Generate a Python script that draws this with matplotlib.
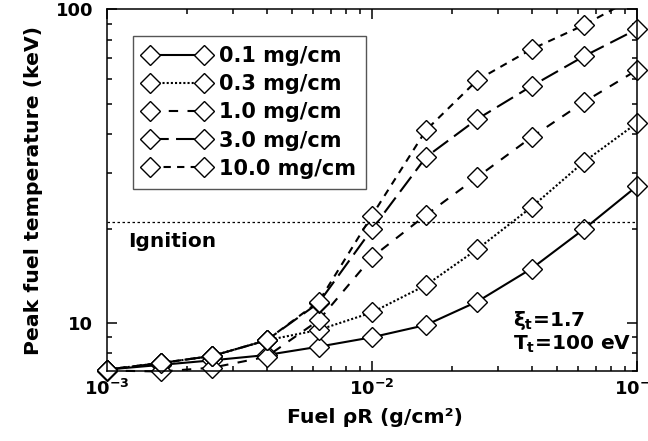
import matplotlib
matplotlib.use('Agg')
import matplotlib.pyplot as plt
from matplotlib.ticker import NullFormatter, LogLocator

plt.rcParams['font.family'] = 'DejaVu Sans'
plt.rcParams['font.weight'] = 'bold'
plt.rcParams['mathtext.fontset'] = 'custom'
plt.rcParams['mathtext.rm'] = 'DejaVu Sans:bold'
plt.rcParams['mathtext.it'] = 'DejaVu Sans:bold'
plt.rcParams['mathtext.bf'] = 'DejaVu Sans:bold'

# fuel areal density (g/cm^2) and peak fuel temperature (keV) for each liner mass
rho_r = [1.0e-3, 1.6e-3, 2.5e-3, 4.0e-3, 6.3e-3, 1.0e-2, 1.6e-2, 2.5e-2, 4.0e-2, 6.3e-2, 1.0e-1]
t_01 = [7.1, 7.35, 7.6, 7.9, 8.4, 9.0, 9.85, 11.7, 14.9, 19.9, 27.3]
t_03 = [7.1, 7.45, 7.85, 8.8, 9.5, 10.8, 13.2, 17.2, 23.4, 32.6, 43.4]
t_10 = [7.05, 7.0, 7.2, 7.8, 10.2, 16.2, 22.1, 29.2, 39.1, 50.6, 64.0]
t_30 = [7.1, 7.45, 7.85, 8.8, 11.6, 19.9, 33.8, 44.7, 56.9, 70.8, 86.4]
t_100 = [7.1, 7.45, 7.85, 8.8, 11.7, 22.0, 41.2, 59.5, 74.6, 89.0, 110.0]
labels = ['0.1 mg/cm', '0.3 mg/cm', '1.0 mg/cm', '3.0 mg/cm', '10.0 mg/cm']
t_ignition = 21.0

series = [t_01, t_03, t_10, t_30, t_100]
styles = ['-', (0, (1, 1)), (0, (4.5, 4.5)), (0, (9, 3.5)), (0, (3.5, 3))]

fig = plt.figure(figsize=(6.48, 4.41), dpi=100)
ax = fig.add_axes([0.1651, 0.1576, 0.8179, 0.8213])

for i in range(5):
    ax.plot(rho_r, series[i], linestyle=styles[i], color='black', lw=1.5,
            marker='D', ms=10.2, mfc='white', mec='black', mew=1.0,
            label=labels[i], clip_on=(i == 4))

ax.axhline(t_ignition, color='black', lw=0.9, linestyle=(0, (2, 2)))

ax.set_xscale('log')
ax.set_yscale('log')
ax.set_xlim(1e-3, 1e-1)
ax.set_ylim(7, 100)

ax.set_xticks([1e-3, 1e-2, 1e-1], [r'$\mathbf{10^{-3}}$', r'$\mathbf{10^{-2}}$', r'$\mathbf{10^{-1}}$'])
ax.set_yticks([10, 100], ['10', '100'])
ax.xaxis.set_minor_locator(LogLocator(subs=range(2, 10)))
ax.yaxis.set_minor_locator(LogLocator(subs=range(2, 10)))
ax.xaxis.set_minor_formatter(NullFormatter())
ax.yaxis.set_minor_formatter(NullFormatter())
ax.tick_params(which='both', direction='in', top=True, right=True, width=1.1, labelsize=13)
ax.tick_params(which='major', length=7)
ax.tick_params(which='minor', length=3.5)
ax.tick_params(axis='x', which='major', pad=5)
ax.tick_params(axis='y', which='major', pad=10)
for s in ax.spines.values():
    s.set_linewidth(1.1)

ax.set_xlabel('Fuel ρR (g/cm²)', fontsize=14.7, fontweight='bold', va='top')
ax.set_ylabel('Peak fuel temperature (keV)', fontsize=14.7, fontweight='bold')
ax.xaxis.set_label_coords(0.505, -0.1)
ax.yaxis.set_label_coords(-0.121, 0.5)

ax.text(0.04, 0.385, 'Ignition', transform=ax.transAxes, fontsize=14.5,
        fontweight='bold', va='top', ha='left')
ax.text(0.766, 0.142, r'$\xi_t$=1.7', transform=ax.transAxes, fontsize=14.5,
        fontweight='bold', va='center', ha='left')
ax.text(0.766, 0.076, r'T$_t$=100 eV', transform=ax.transAxes, fontsize=14.5,
        fontweight='bold', va='center', ha='left')

leg = ax.legend(loc='upper left', bbox_to_anchor=(0.049, 0.927), borderaxespad=0,
                numpoints=2, handlelength=3.21, handletextpad=0.42, labelspacing=0.39,
                borderpad=0.5, fontsize=15, fancybox=False, framealpha=1,
                edgecolor='#555555')
leg.get_frame().set_linewidth(1.0)

fig.savefig('out.png', dpi=100)
